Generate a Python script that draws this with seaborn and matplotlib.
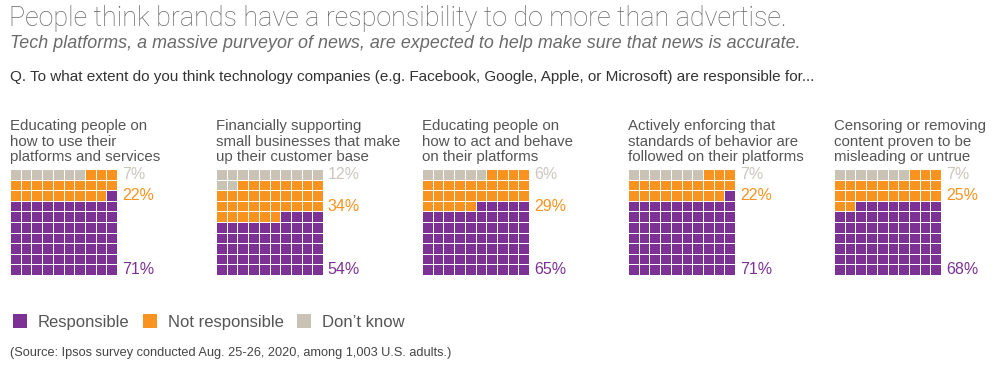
import numpy as np
import matplotlib
matplotlib.use("Agg")
import matplotlib.pyplot as plt
from matplotlib.colors import ListedColormap
from matplotlib.patches import Patch
import seaborn as sns

# ---- data ----
categories = [
    "Educating people on\nhow to use their\nplatforms and services",
    "Financially supporting\nsmall businesses that make\nup their customer base",
    "Educating people on\nhow to act and behave\non their platforms",
    "Actively enforcing that\nstandards of behavior are\nfollowed on their platforms",
    "Censoring or removing\ncontent proven to be\nmisleading or untrue",
]
responsible = [71, 54, 65, 71, 68]
not_responsible = [22, 34, 29, 22, 25]
dont_know = [7, 12, 6, 7, 7]
series_names = ["Responsible", "Not responsible", "Don\u2019t know"]

title = "People think brands have a responsibility to do more than advertise."
subtitle = "Tech platforms, a massive purveyor of news, are expected to help make sure that news is accurate."
question = ("Q. To what extent do you think technology companies (e.g. Facebook, Google, Apple, "
            "or Microsoft) are responsible for...")
source = "(Source: Ipsos survey conducted Aug. 25-26, 2020, among 1,003 U.S. adults.)"

# ---- style ----
PURPLE = "#7b3294"
ORANGE = "#f7931e"
GRAY = "#c9c3b6"
LABEL_GRAY = "#cbc7bf"
TEXT = "#555555"
colors = [PURPLE, ORANGE, GRAY]

sns.set_theme(style="white")
plt.rcParams["font.family"] = ["Liberation Sans", "DejaVu Sans"]

W, H = 1000, 370
fig = plt.figure(figsize=(W / 100, H / 100), dpi=100)
fig.patch.set_facecolor("white")


def fx(px):
    return px / W


def fy(py):
    return 1 - py / H


fig.text(fx(9), fy(19), title, fontsize=19.4, color="#666666", va="center", ha="left",
         family=["Roboto", "DejaVu Sans"], fontweight="light")
fig.text(fx(10), fy(43), subtitle, fontsize=12.9, color="#6a6a6a", va="center", ha="left",
         style="italic")
fig.text(fx(10), fy(77), question, fontsize=10.95, color="#333333", va="center", ha="left")

cmap = ListedColormap(colors)
x_starts = [10, 216, 422, 628, 834]
gw, gtop, gbot = 107, 169, 275

for i in range(len(categories)):
    vals = [responsible[i], not_responsible[i], dont_know[i]]
    flat = np.repeat(np.arange(3), vals)[:100]
    mat = np.zeros((10, 10), dtype=int)
    for k, v in enumerate(flat):
        r_bottom = k // 10
        c = 9 - (k % 10)
        mat[9 - r_bottom, c] = v
    ax = fig.add_axes([fx(x_starts[i]), fy(gbot), gw / W, (gbot - gtop) / H])
    sns.heatmap(mat, cmap=cmap, vmin=-0.5, vmax=2.5, cbar=False, linewidths=0.6,
                linecolor="white", xticklabels=False, yticklabels=False, ax=ax)
    ax.set_xticks([])
    ax.set_yticks([])
    # percent labels
    orange_row_bottom = int((responsible[i] + not_responsible[i] / 2) // 10) - 1
    label_rows = [9.5, 9 - orange_row_bottom + 0.5, 0.5]
    label_cols = [PURPLE, ORANGE, LABEL_GRAY]
    for v, yr, col in zip(vals, label_rows, label_cols):
        ax.annotate(f"{v}%", xy=(10, yr), xytext=(3.5, 0), textcoords="offset points",
                    va="center", ha="left", fontsize=11.5, color=col, annotation_clip=False)
    fig.text(fx(x_starts[i]), fy(119), categories[i], fontsize=10.8, color=TEXT,
             va="top", ha="left", linespacing=1.15)

handles = [Patch(facecolor=c, edgecolor="none") for c in colors]
fig.legend(handles, series_names, loc="center left", bbox_to_anchor=(fx(-2), fy(322)),
           ncol=3, frameon=False, fontsize=12.0, handlelength=0.85, handleheight=0.85,
           handletextpad=0.65, columnspacing=0.8, labelcolor=TEXT)
fig.text(fx(10), fy(353), source, fontsize=9.2, color="#444444", va="center", ha="left")

fig.savefig("out.png", dpi=100, facecolor="white")
